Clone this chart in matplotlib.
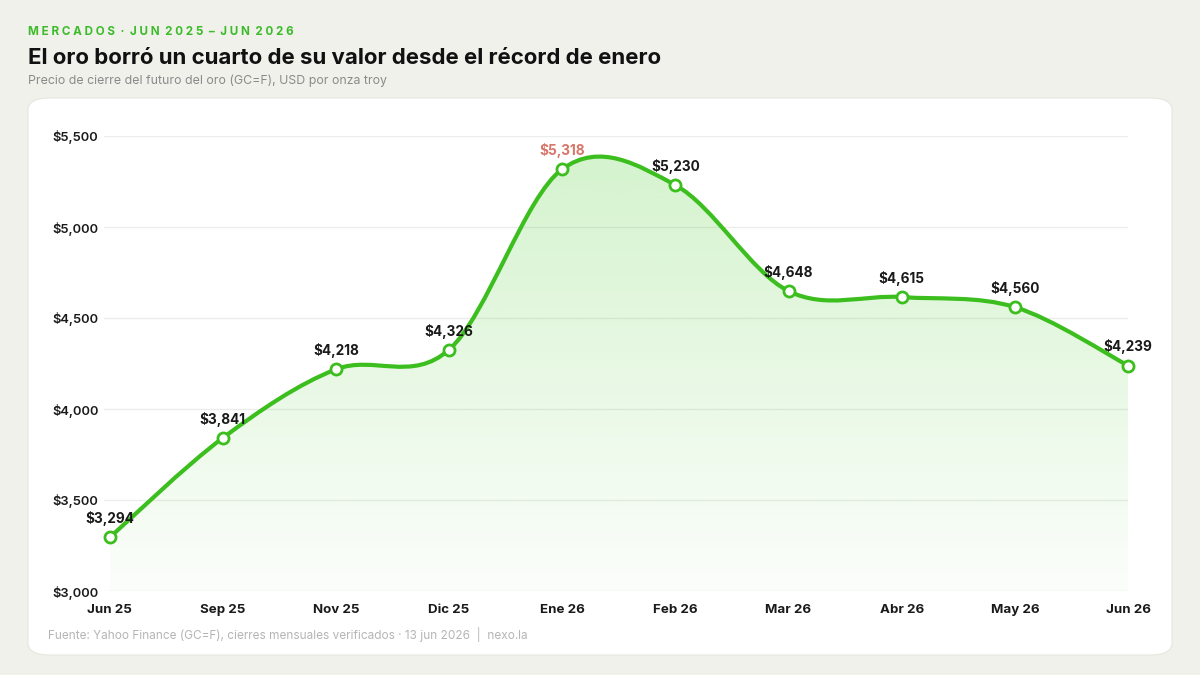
import matplotlib.pyplot as plt
import numpy as np
from matplotlib.path import Path
from matplotlib.patches import PathPatch, FancyBboxPatch

plt.rcParams['font.family'] = ['Inter', 'DejaVu Sans']

# data
months = ['Jun 25', 'Sep 25', 'Nov 25', 'Dic 25', 'Ene 26',
          'Feb 26', 'Mar 26', 'Abr 26', 'May 26', 'Jun 26']
prices = [3294, 3841, 4218, 4326, 5318, 5230, 4648, 4615, 4560, 4239]
labels = ['$3,294', '$3,841', '$4,218', '$4,326', '$5,318',
          '$5,230', '$4,648', '$4,615', '$4,560', '$4,239']
yticks = [3000, 3500, 4000, 4500, 5000, 5500]
peak_idx = 4

GREEN = '#3cbf1e'
BG = '#f1f1eb'

fig = plt.figure(figsize=(12, 6.75), dpi=100)
fig.patch.set_facecolor(BG)

# white card, kept under the axes
card = FancyBboxPatch((28/1200, 1 - 655/675), (1172-28)/1200, (655-98)/675,
                      boxstyle='round,pad=0,rounding_size=0.018',
                      transform=fig.transFigure, facecolor='white',
                      edgecolor='#e6e6df', linewidth=0.8, zorder=-5)
fig.patches.append(card)

ax = fig.add_axes([104/1200, 1 - 591/675, (1128-104)/1200, (591-136)/675])
ax.set_facecolor('none')
ax.set_zorder(2)

x = np.arange(len(prices))
y = np.array(prices, dtype=float)

# catmull-rom curve as bezier path
verts = [(x[0], y[0])]
codes = [Path.MOVETO]
for i in range(len(x) - 1):
    p0 = (x[max(i-1, 0)], y[max(i-1, 0)])
    p1 = (x[i], y[i])
    p2 = (x[i+1], y[i+1])
    p3 = (x[min(i+2, len(x)-1)], y[min(i+2, len(x)-1)])
    c1 = (p1[0] + (p2[0]-p0[0])/6, p1[1] + (p2[1]-p0[1])/6)
    c2 = (p2[0] - (p3[0]-p1[0])/6, p2[1] - (p3[1]-p1[1])/6)
    verts += [c1, c2, p2]
    codes += [Path.CURVE4]*3
line_path = Path(verts, codes)

fill_verts = verts + [(x[-1], 3000), (x[0], 3000), (x[0], y[0])]
fill_codes = codes + [Path.LINETO, Path.LINETO, Path.CLOSEPOLY]
fill_patch = PathPatch(Path(fill_verts, fill_codes), facecolor='none',
                       edgecolor='none')
ax.add_patch(fill_patch)

# gradient fill
grad = np.zeros((256, 1, 4))
grad[:, 0, 0] = 0x3c/255
grad[:, 0, 1] = 0xc8/255
grad[:, 0, 2] = 0x1e/255
grad[:, 0, 3] = np.linspace(0.22, 0.02, 256)
im = ax.imshow(grad, aspect='auto', extent=[x[0], x[-1], 3000, 5400],
               origin='upper', zorder=1)
im.set_clip_path(fill_patch)

ax.add_patch(PathPatch(line_path, facecolor='none', edgecolor=GREEN,
                       linewidth=3, capstyle='round', zorder=3))
ax.plot(x, y, 'o', markersize=8, markerfacecolor='white',
        markeredgecolor=GREEN, markeredgewidth=2, zorder=4, clip_on=False)

for i, (xi, yi) in enumerate(zip(x, y)):
    ax.annotate(labels[i], (xi, yi), xytext=(0, 8), textcoords='offset points',
                ha='center', va='bottom', fontsize=9.8, fontweight='bold',
                color='#d9766a' if i == peak_idx else '#1a1a1a', zorder=5,
                annotation_clip=False)

ax.set_xlim(-0.05, 9)
ax.set_ylim(3000, 5500)
ax.set_xticks(x)
ax.set_xticklabels(months, fontsize=9.6, fontweight='bold', color='#1a1a1a')
for lbl in ax.get_xticklabels():
    lbl.set_verticalalignment('baseline')
ax.set_yticks(yticks)
ax.set_yticklabels(['${:,}'.format(v) for v in yticks], fontsize=9.3,
                   fontweight='semibold', color='#1a1a1a')
ax.tick_params(axis='both', length=0)
ax.tick_params(axis='y', pad=4)
ax.tick_params(axis='x', pad=16)
for s in ax.spines.values():
    s.set_visible(False)
ax.grid(axis='y', color='#ececec', linewidth=1)
ax.set_axisbelow(True)

# header
fig.text(28/1200, 1 - 32/675, 'M E R C A D O S  ·  J U N  2 0 2 5  –  J U N  2 0 2 6',
         fontsize=8.4, fontweight='bold', color='#3cbb2a', va='center')
fig.text(28/1200, 1 - 58/675, 'El oro borró un cuarto de su valor desde el récord de enero',
         fontsize=16, fontweight='bold', color='#111111', va='center')
fig.text(28/1200, 1 - 81/675, 'Precio de cierre del futuro del oro (GC=F), USD por onza troy',
         fontsize=8.9, color='#8a8a8a', va='center')

fig.text(48/1200, 1 - 634/675,
         'Fuente: Yahoo Finance (GC=F), cierres mensuales verificados · 13 jun 2026  |  nexo.la',
         fontsize=8.5, color='#b5b5b5', va='center')

fig.savefig('out.png', dpi=100, facecolor=BG)
